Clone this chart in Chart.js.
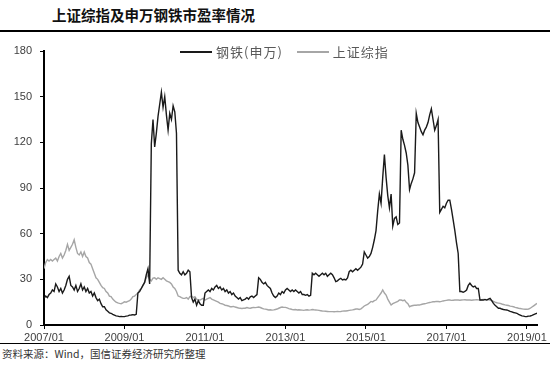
<!DOCTYPE html>
<html lang="zh-CN">
<head>
<meta charset="utf-8">
<title>上证综指及申万钢铁市盈率情况</title>
<script src="https://cdn.jsdelivr.net/npm/chart.js@4/dist/chart.umd.min.js"></script>
<style>
  html, body { margin: 0; padding: 0; background: #fff; }
  #wrap { position: relative; width: 550px; height: 373px; overflow: hidden; font-family: "Noto Sans CJK SC", sans-serif; }
  #titulo { position: absolute; left: 52px; top: 6px; font-size: 14.5px; font-weight: bold; color: #111; line-height: 18px; }
  .linea { position: absolute; left: 0; width: 550px; background: #000; }
  #l1 { top: 30px; height: 2px; }
  #l2 { top: 343px; height: 1px; }
  #fuente { position: absolute; left: 2px; top: 347px; font-size: 10.5px; color: #333; line-height: 14px; }
  #graf { position: absolute; left: 0; top: 36px; width: 550px; height: 307px; }
  #leyenda { position: absolute; left: 180px; top: 44px; display: flex; align-items: center; font-size: 13px; color: #595959; line-height: 16px; letter-spacing: 1px; }
  #leyenda .item { display: flex; align-items: center; margin-right: 14px; }
  #leyenda .raya { display: inline-block; width: 32px; margin-right: 4px; }
</style>
</head>
<body>
<div id="wrap">
  <div id="titulo">上证综指及申万钢铁市盈率情况</div>
  <div class="linea" id="l1"></div>
  <div id="graf"><canvas id="chart-pe"></canvas></div>
  <div id="leyenda"></div>
  <div class="linea" id="l2"></div>
  <div id="fuente">资料来源：Wind，国信证券经济研究所整理</div>
</div>
<script>
// 半月一个点，从2007/01开始
const STEP = 0.5;
const tickMonths = [0, 24, 48, 72, 96, 120, 144];
const tickLabels = ['2007/01', '2009/01', '2011/01', '2013/01', '2015/01', '2017/01', '2019/01'];
const yTicks = [0, 30, 60, 90, 120, 150, 180];
const seriesNames = ['钢铁(申万)', '上证综指'];

const steelPE = [
  17.5, 19, 18, 20, 21, 23, 22, 27, 25, 22, 24, 21, 23, 26, 30, 32, 26, 25, 23, 26, 22, 24, 27, 23,
  25, 22, 24, 21, 22, 19, 21, 18, 16, 17, 14, 12, 12, 10, 9, 8, 7.7, 7, 6.5, 6, 5.8, 5.5, 5.6, 5.5,
  5.5, 5.8, 6, 6.5, 6.6, 6.8, 6.6, 7, 21, 22, 24, 26, 28, 33, 37, 27, 119, 135, 117, 126, 137, 145, 153, 143,
  150, 138, 128, 139, 135, 144, 140, 126, 36, 34, 33, 35, 33, 34, 36, 35, 18, 15, 17, 13, 16, 14, 13, 13,
  21, 22, 23, 22, 24, 23, 25, 26, 24, 25, 23, 24, 22, 23, 21, 22, 20, 21, 19, 18, 17, 18, 16, 16.5,
  17, 18, 17, 18.5, 19, 18, 19, 20, 31, 30, 28, 27, 28, 26, 25, 24, 21, 19, 18, 19, 21, 20, 22, 21,
  23, 24, 23, 22, 23, 22, 23, 22, 21, 22, 20, 20, 19.5, 20, 19, 19.5, 34, 33, 34, 33, 32, 33, 34, 33,
  34, 32, 33, 34, 33, 31, 28.5, 29, 30, 30.7, 29.6, 30, 29.6, 31, 35, 36, 35, 36, 37, 36, 37, 38, 40, 48,
  46, 44, 45, 47, 51, 56, 62, 75, 86, 80, 97, 112, 97, 85, 77, 86, 65, 70, 71, 66, 67, 128, 122, 118,
  113, 105, 89, 93, 96, 100, 139, 133, 130, 127, 125, 128, 130, 133, 138, 142, 135, 128, 131, 135, 74, 76, 78, 77,
  80, 82, 82, 76, 69, 62, 54, 47, 22, 22, 21.5, 22, 23, 26, 27.5, 26, 25, 25.5, 24, 24, 16.4, 16.5, 16.4, 16.8,
  16.4, 17, 17.5, 16, 14.2, 13, 12, 11, 11, 10.5, 10.2, 10, 9.9, 9.5, 9, 8.6, 8.2, 8, 7.7, 7, 6.5, 6, 5.8, 5.5,
  5.6, 5.8, 5.9, 6.3, 6.8, 7.3, 7.7
];

const shPE = [
  37, 41, 43, 42, 43, 42, 43, 44, 42, 45, 47, 44, 46, 49, 53, 49, 51, 53, 56, 51, 47, 46, 48, 45,
  48, 45, 44, 41, 40, 37, 34, 31, 30, 28, 26, 24.5, 24, 22, 21, 19, 18.6, 17, 16, 15, 14.5, 14.2, 14, 14.5,
  15.3, 15, 15.5, 16, 17, 18.6, 19, 20, 21, 23, 24, 26, 28, 31, 33, 30, 29, 30.8, 31, 30, 31, 30.5, 30, 31,
  30, 29, 28.5, 28, 27, 25, 24, 22, 19, 18.6, 18, 17.5, 17.5, 18, 17, 18.6, 19, 18, 18.6, 17, 16.4, 16.4, 17, 17.5,
  16.4, 17, 17.5, 18, 17, 16.5, 16, 15.5, 15, 14.2, 14, 13.5, 13, 12.8, 12.5, 12, 12, 12.2, 11.8, 11.5, 11.2, 11, 10.8, 11,
  11, 11.5, 11.2, 11, 11.3, 11.6, 11.4, 11.6, 11.8, 11.5, 11, 10.6, 10.4, 10.2, 9.9, 10, 9.8, 9.9, 10.2, 10.5, 11, 11.5, 11.8, 11.6,
  11.6, 11.2, 10.8, 10.5, 10.2, 10, 10.2, 9.9, 10, 9.9, 9.8, 9.6, 9.9, 10, 9.8, 9.9, 10.2, 10, 9.9, 9.8, 9.6, 9.4, 9.2, 9.1,
  9, 8.9, 8.8, 8.8, 8.8, 8.7, 8.8, 8.9, 8.8, 8.9, 9.1, 9.2, 9.2, 9.4, 9.6, 9.8, 9.9, 10.2, 10.5, 10.5, 10.2, 10.6, 11.5, 12.5,
  13.1, 13.5, 14.5, 15.5, 15.2, 16, 16.4, 18, 19.5, 21, 23, 21, 19.7, 17, 15, 13.1, 14, 14.5, 15, 15.5, 16.4, 16.4, 16, 16.4,
  15, 14, 12, 12.5, 12.8, 13, 13, 13.2, 13.1, 13.5, 13.8, 14, 14.2, 14.5, 14.8, 15, 15.3, 15.3, 15.5, 15.4, 15.3, 15.5, 15.8, 16,
  16.2, 16.4, 16.4, 16.2, 16.3, 16.4, 16.5, 16.4, 16.3, 16.4, 16.5, 16.6, 16.4, 16.5, 16.4, 16.3, 16.4, 16.5, 16.6, 16.5, 16.4, 16.6, 16.8, 16.6,
  16.5, 16.6, 16.4, 16, 15.5, 15, 14.6, 14.4, 14.2, 13.8, 13.5, 13.2, 13, 12.8, 12.4, 12.2, 12, 11.6, 11.3, 11, 10.8, 10.6, 10.4, 10.3,
  10.3, 10.5, 11, 11.8, 12.6, 13.4, 14.2
];

(function(){
  document.addEventListener('DOMContentLoaded', () => {
    const toPoints = (arr) => arr.map((v, i) => ({ x: i * STEP, y: v }));
    const tickFont = { family: '"Liberation Sans", Arial, sans-serif', size: 11 };

    const chart = new Chart(document.getElementById('chart-pe'), {
      type: 'line',
      data: {
        datasets: [
          { label: seriesNames[0], data: toPoints(steelPE), borderColor: '#1a1a1a', borderWidth: 1.4 },
          { label: seriesNames[1], data: toPoints(shPE), borderColor: '#a6a6a6', borderWidth: 1.4 }
        ]
      },
      options: {
        responsive: true,
        maintainAspectRatio: false,
        animation: false,
        layout: { padding: { top: 15, right: 13, left: 0, bottom: 0 } },
        elements: { point: { radius: 0 }, line: { tension: 0 } },
        plugins: { legend: { display: false }, tooltip: { enabled: false } },
        scales: {
          x: {
            type: 'linear',
            min: 0,
            max: 147,
            afterFit: s => { s.height = 18; },
            afterBuildTicks: s => { s.ticks = tickMonths.map(v => ({ value: v })); },
            grid: { drawOnChartArea: false, drawTicks: true, tickLength: 4, tickColor: '#000' },
            border: { display: true, color: '#000', width: 2 },
            ticks: {
              autoSkip: false, maxRotation: 0, padding: 2, color: '#404040', font: tickFont,
              callback: v => tickLabels[tickMonths.indexOf(v)]
            }
          },
          y: {
            min: 0,
            max: 180,
            afterFit: s => { s.width = 44; },
            afterBuildTicks: s => { s.ticks = yTicks.map(v => ({ value: v })); },
            grid: { drawOnChartArea: false, drawTicks: true, tickLength: 4, tickColor: '#000' },
            border: { display: true, color: '#000', width: 2 },
            ticks: { padding: 8, color: '#404040', font: tickFont }
          }
        }
      }
    });

    // 图例用HTML画
    const leyenda = document.getElementById('leyenda');
    leyenda.innerHTML = chart.data.datasets.map(ds => `
      <span class="item"><span class="raya" style="height:${ds.borderWidth}px;background:${ds.borderColor}"></span>${ds.label}</span>
    `).join('');
  });
})();
</script>
</body>
</html>
